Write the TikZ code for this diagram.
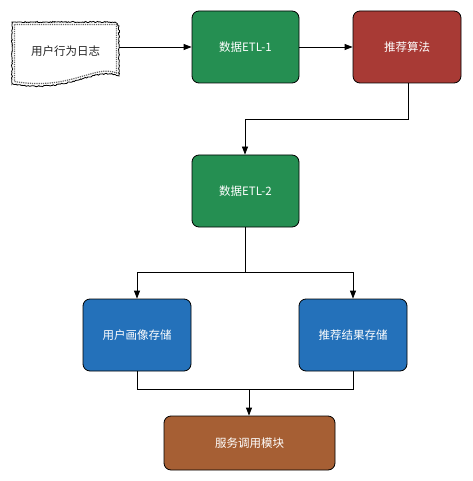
\documentclass[tikz,border=0pt]{standalone}
\usepackage{fontspec}
\newfontfamily\cjk{Noto Sans CJK SC}
\usetikzlibrary{arrows.meta,decorations.pathmorphing}
\definecolor{cgreen}{HTML}{258F52}
\definecolor{cred}{HTML}{A83A35}
\definecolor{cblue}{HTML}{2471BA}
\definecolor{cbrown}{HTML}{A65F34}
\begin{document}
\begin{tikzpicture}[x=1pt,y=-1pt,
  box/.style={draw=black,line width=0.8pt,rounded corners=7pt,text=white,font=\cjk\fontsize{11.5}{13}\selectfont,inner sep=0pt},
  conn/.style={line width=0.8pt,-{Triangle[length=8pt,width=6pt]}},
  plain/.style={line width=0.8pt}]
\useasboundingbox (0,0) rectangle (472,481);
% document shape
\path[draw=black,line width=0.8pt,fill=white,decorate,decoration={random steps,segment length=1.2pt,amplitude=0.6pt}]
  (12,26) -- (12,22) -- (115,22) -- (119,26) -- (119,76) .. controls (95,66) and (70,94) .. (12,84) -- cycle;
\path[draw=black!60,densely dotted,line width=1.2pt]
  (14.5,24.5) -- (116.5,24.5) -- (116.5,73) .. controls (95,64) and (70,91) .. (14.5,81.5) -- cycle;
\node[font=\cjk\fontsize{11.5}{13}\selectfont,text=black!85] (log) at (65.5,51) {用户行为日志};
\coordinate (logE) at (119,47);
\node[box,fill=cgreen,minimum width=107pt,minimum height=72pt] (etl1) at (245.5,47) {数据ETL-1};
\node[box,fill=cred,minimum width=108pt,minimum height=72pt] (alg) at (407,47) {推荐算法};
\node[box,fill=cgreen,minimum width=107pt,minimum height=72pt] (etl2) at (245.5,191) {数据ETL-2};
\node[box,fill=cblue,minimum width=108pt,minimum height=72pt] (user) at (137,335) {用户画像存储};
\node[box,fill=cblue,minimum width=108pt,minimum height=72pt] (rec) at (353,335) {推荐结果存储};
\node[box,fill=cbrown,minimum width=171pt,minimum height=54pt] (svc) at (249.5,443) {服务调用模块};
\coordinate (j1) at (408,119);
\coordinate (j2) at (245,119);
\coordinate (j3) at (245,272);
\coordinate (j4) at (137,272);
\coordinate (j5) at (353,272);
\coordinate (j6) at (137,389);
\coordinate (j7) at (353,389);
\coordinate (j8) at (249,389);
\draw[conn] (logE) -- (etl1.west);
\draw[conn] (etl1.east) -- (alg.west);
\draw[conn] (alg.south -| j1) -- (j1) -- (j2) -- (etl2.north -| j2);
\draw[plain] (etl2.south -| j3) -- (j3);
\draw[conn] (j3) -- (j4) -- (user.north);
\draw[conn] (j3) -- (j5) -- (rec.north);
\draw[plain] (user.south) -- (j6) -- (j7) -- (rec.south);
\draw[conn] (j8) -- (svc.north -| j8);
\end{tikzpicture}
\end{document}
